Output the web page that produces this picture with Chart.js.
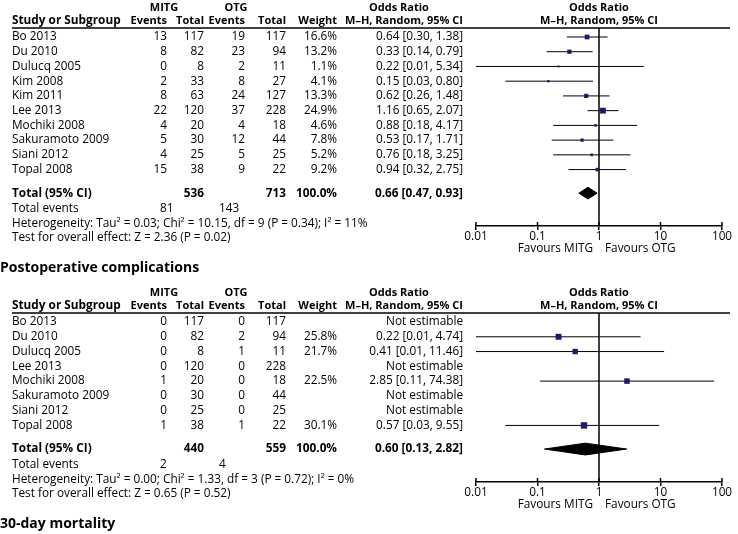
<!DOCTYPE html>
<html>
<head>
<meta charset="utf-8">
<script src="https://cdn.jsdelivr.net/npm/chart.js@4/dist/chart.umd.min.js"></script>
<style>
  html, body { margin: 0; padding: 0; background: #fff; }
  body { width: 738px; height: 534px; position: relative; overflow: hidden; }
  canvas { position: absolute; left: 0; }
  #chart1 { top: 0; }
  #chart2 { top: 285px; }
</style>
</head>
<body>
<canvas id="chart1" width="738" height="285"></canvas>
<canvas id="chart2" width="738" height="249"></canvas>
<script>
// Données : premier forest plot
const studies1 = ['Bo 2013', 'Du 2010', 'Dulucq 2005', 'Kim 2008', 'Kim 2011', 'Lee 2013', 'Mochiki 2008', 'Sakuramoto 2009', 'Siani 2012', 'Topal 2008'];
const eventsMitg1 = [13, 8, 0, 2, 8, 22, 4, 5, 4, 15];
const totalMitg1 = [117, 82, 8, 33, 63, 120, 20, 30, 25, 38];
const eventsOtg1 = [19, 23, 2, 8, 24, 37, 4, 12, 5, 9];
const totalOtg1 = [117, 94, 11, 27, 127, 228, 18, 44, 25, 22];
const weights1 = [16.6, 13.2, 1.1, 4.1, 13.3, 24.9, 4.6, 7.8, 5.2, 9.2];
const oddsRatio1 = [0.64, 0.33, 0.22, 0.15, 0.62, 1.16, 0.88, 0.53, 0.76, 0.94];
const ciLow1 = [0.30, 0.14, 0.01, 0.03, 0.26, 0.65, 0.18, 0.17, 0.18, 0.32];
const ciHigh1 = [1.38, 0.79, 5.34, 0.80, 1.48, 2.07, 4.17, 1.71, 3.25, 2.75];
const pooled1 = [0.66, 0.47, 0.93]; // OR, bas, haut
const totals1 = [536, 713];
const totalEvents1 = [81, 143];
const stats1 = ['Heterogeneity: Tau\u00b2 = 0.03; Chi\u00b2 = 10.15, df = 9 (P = 0.34); I\u00b2 = 11%', 'Test for overall effect: Z = 2.36 (P = 0.02)'];

// Données : complications postopératoires
const studies2 = ['Bo 2013', 'Du 2010', 'Dulucq 2005', 'Lee 2013', 'Mochiki 2008', 'Sakuramoto 2009', 'Siani 2012', 'Topal 2008'];
const eventsMitg2 = [0, 0, 0, 0, 1, 0, 0, 1];
const totalMitg2 = [117, 82, 8, 120, 20, 30, 25, 38];
const eventsOtg2 = [0, 2, 1, 0, 0, 0, 0, 1];
const totalOtg2 = [117, 94, 11, 228, 18, 44, 25, 22];
const weights2 = [null, 25.8, 21.7, null, 22.5, null, null, 30.1];
const oddsRatio2 = [null, 0.22, 0.41, null, 2.85, null, null, 0.57];
const ciLow2 = [null, 0.01, 0.01, null, 0.11, null, null, 0.03];
const ciHigh2 = [null, 4.74, 11.46, null, 74.38, null, null, 9.55];
const pooled2 = [0.60, 0.13, 2.82];
const totals2 = [440, 559];
const totalEvents2 = [2, 4];
const stats2 = ['Heterogeneity: Tau\u00b2 = 0.00; Chi\u00b2 = 1.33, df = 3 (P = 0.72); I\u00b2 = 0%', 'Test for overall effect: Z = 0.65 (P = 0.52)'];

// Axe des x (échelle log)
const tickValues = [0.01, 0.1, 1, 10, 100];
const tickLabels = ['0.01', '0.1', '1', '10', '100'];

const FONT = '"Open Sans", "DejaVu Sans", sans-serif';
const FS = 11.8;  // texte courant
const FH = 11;    // en-têtes de colonnes
const NAVY = '#1c1c6b';
// colonnes du tableau (bord droit pour les nombres)
const COL = { study: 12, ev1: 167, tot1: 204, ev2: 245, tot2: 286, weight: 337, ci: 463, grp1: 164, grp2: 236, orHead: 399, forest: 599 };

function txt(ctx, s, x, y, align, bold, size) {
  ctx.font = (bold ? 'bold ' : '') + (size || FS) + 'px ' + FONT;
  ctx.textAlign = align || 'left';
  ctx.textBaseline = 'middle';
  ctx.fillStyle = '#000';
  ctx.fillText(s, x, y);
}

function fmtCI(or, lo, hi) {
  return or.toFixed(2) + ' [' + lo.toFixed(2) + ', ' + hi.toFixed(2) + ']';
}

// Plugin qui écrit le tableau à gauche, aligné sur l'échelle y
const tablePlugin = {
  id: 'table',
  afterDraw(chart) {
    const p = chart.options.plugins.table;
    const ctx = chart.ctx;
    const y = chart.scales.y;
    const x = chart.scales.x;
    const area = chart.chartArea;
    const n = p.studies.length;
    ctx.save();

    // en-têtes
    let yy = y.getPixelForValue(-1.95);
    txt(ctx, 'MITG', COL.grp1, yy, 'center', true, FH);
    txt(ctx, 'OTG', COL.grp2, yy, 'center', true, FH);
    txt(ctx, 'Odds Ratio', COL.orHead, yy, 'center', true, FH);
    txt(ctx, 'Odds Ratio', COL.forest, yy, 'center', true, FH);
    yy = y.getPixelForValue(-1.12);
    txt(ctx, 'Study or Subgroup', COL.study, yy, 'left', true, FS);
    txt(ctx, 'Events', COL.ev1, yy, 'right', true, FH);
    txt(ctx, 'Total', COL.tot1, yy, 'right', true, FH);
    txt(ctx, 'Events', COL.ev2, yy, 'right', true, FH);
    txt(ctx, 'Total', COL.tot2, yy, 'right', true, FH);
    txt(ctx, 'Weight', COL.weight, yy, 'right', true, FH);
    txt(ctx, 'M\u2013H, Random, 95% CI', COL.ci, yy, 'right', true, FH);
    txt(ctx, 'M\u2013H, Random, 95% CI', COL.forest, yy, 'center', true, FH);

    // ligne sous l'en-tête
    ctx.strokeStyle = '#000';
    ctx.lineWidth = 1.5;
    ctx.beginPath();
    ctx.moveTo(COL.study, area.top);
    ctx.lineTo(730, area.top);
    ctx.stroke();

    // lignes des études
    p.studies.forEach((s, i) => {
      const py = y.getPixelForValue(i);
      txt(ctx, s, COL.study, py);
      txt(ctx, String(p.evM[i]), COL.ev1, py, 'right');
      txt(ctx, String(p.totM[i]), COL.tot1, py, 'right');
      txt(ctx, String(p.evO[i]), COL.ev2, py, 'right');
      txt(ctx, String(p.totO[i]), COL.tot2, py, 'right');
      if (p.w[i] !== null) txt(ctx, p.w[i].toFixed(1) + '%', COL.weight, py, 'right');
      if (p.or[i] !== null) txt(ctx, fmtCI(p.or[i], p.lo[i], p.hi[i]), COL.ci, py, 'right');
      else txt(ctx, 'Not estimable', COL.ci, py, 'right');
    });

    // total
    yy = y.getPixelForValue(n + 0.6);
    txt(ctx, 'Total (95% CI)', COL.study, yy, 'left', true);
    txt(ctx, String(p.totals[0]), COL.tot1, yy, 'right', true);
    txt(ctx, String(p.totals[1]), COL.tot2, yy, 'right', true);
    txt(ctx, '100.0%', COL.weight, yy, 'right', true);
    txt(ctx, fmtCI(p.pooled[0], p.pooled[1], p.pooled[2]), COL.ci, yy, 'right', true);
    yy = y.getPixelForValue(n + 1.65);
    txt(ctx, 'Total events', COL.study, yy);
    txt(ctx, String(p.events[0]), 160, yy);
    txt(ctx, String(p.events[1]), 219, yy);
    txt(ctx, p.stats[0], COL.study, y.getPixelForValue(n + 2.67));
    txt(ctx, p.stats[1], COL.study, y.getPixelForValue(n + 3.65));

    // petits traits au-dessus de l'axe
    ctx.lineWidth = 1.5;
    tickValues.forEach(v => {
      const px = x.getPixelForValue(v);
      ctx.beginPath();
      ctx.moveTo(px, area.bottom - 4);
      ctx.lineTo(px, area.bottom);
      ctx.stroke();
    });
    txt(ctx, 'Favours MITG', x.getPixelForValue(1) - 6, area.bottom + 23, 'right');
    txt(ctx, 'Favours OTG', x.getPixelForValue(1) + 6, area.bottom + 23, 'left');

    // titre de la section suivante
    txt(ctx, p.nextTitle, 0, y.getPixelForValue(n + 5.7), 'left', true, 14);
    ctx.restore();
  }
};

function makeForest(canvasId, p, bandHeight) {
  const n = p.studies.length;
  const yMin = -0.61, yMax = n + 2.83;
  const datasets = [];

  // carrés (taille selon le poids)
  const pts = [], radii = [];
  p.or.forEach((v, i) => {
    if (v === null) return;
    pts.push({ x: v, y: i });
    radii.push(Math.max(1.4, 4.5 * Math.sqrt(p.w[i] / 30)));
  });
  datasets.push({ data: pts, pointStyle: 'rect', pointRadius: radii, backgroundColor: NAVY, borderWidth: 0, order: 0 });

  // intervalles de confiance
  p.or.forEach((v, i) => {
    if (v === null) return;
    datasets.push({ data: [{ x: p.lo[i], y: i }, { x: p.hi[i], y: i }], showLine: true, borderColor: '#000', borderWidth: 1, pointRadius: 0, order: 1 });
  });

  // losange de l'effet global
  const dy = n + 0.6;
  datasets.push({
    data: [{ x: p.pooled[1], y: dy }, { x: p.pooled[0], y: dy - 0.4 }, { x: p.pooled[2], y: dy }, { x: p.pooled[0], y: dy + 0.4 }, { x: p.pooled[1], y: dy }],
    showLine: true, fill: 'shape', backgroundColor: '#000', borderColor: '#000', borderWidth: 1, pointRadius: 0, tension: 0, order: 1
  });

  // ligne verticale OR = 1
  datasets.push({ data: [{ x: 1, y: yMin }, { x: 1, y: yMax }], showLine: true, borderColor: '#000', borderWidth: 1.5, pointRadius: 0, order: 2 });

  return new Chart(document.getElementById(canvasId), {
    type: 'scatter',
    data: { datasets: datasets },
    options: {
      responsive: false,
      animation: false,
      events: [],
      layout: { padding: { left: 476, right: 16, top: 28, bottom: 0 } },
      scales: {
        x: {
          type: 'logarithmic',
          min: 0.01,
          max: 100,
          afterBuildTicks: (scale) => { scale.ticks = tickValues.map(v => ({ value: v })); },
          afterFit: (scale) => { scale.height = bandHeight; },
          ticks: {
            autoSkip: false,
            maxRotation: 0,
            padding: 0,
            color: '#000',
            font: { family: FONT, size: FS },
            callback: (val, idx) => tickLabels[idx]
          },
          grid: { drawOnChartArea: false, tickLength: 4, color: '#000', lineWidth: 1.5 },
          border: { display: true, color: '#000', width: 1.5 }
        },
        y: { type: 'linear', display: false, reverse: true, min: yMin, max: yMax }
      },
      plugins: { legend: { display: false }, tooltip: { enabled: false }, table: p }
    },
    plugins: [tablePlugin]
  });
}

makeForest('chart1', {
  studies: studies1, evM: eventsMitg1, totM: totalMitg1, evO: eventsOtg1, totO: totalOtg1,
  w: weights1, or: oddsRatio1, lo: ciLow1, hi: ciHigh1, pooled: pooled1,
  totals: totals1, events: totalEvents1, stats: stats1, nextTitle: 'Postoperative complications'
}, 59);

makeForest('chart2', {
  studies: studies2, evM: eventsMitg2, totM: totalMitg2, evO: eventsOtg2, totO: totalOtg2,
  w: weights2, or: oddsRatio2, lo: ciLow2, hi: ciHigh2, pooled: pooled2,
  totals: totals2, events: totalEvents2, stats: stats2, nextTitle: '30-day mortality'
}, 52);
</script>
</body>
</html>
